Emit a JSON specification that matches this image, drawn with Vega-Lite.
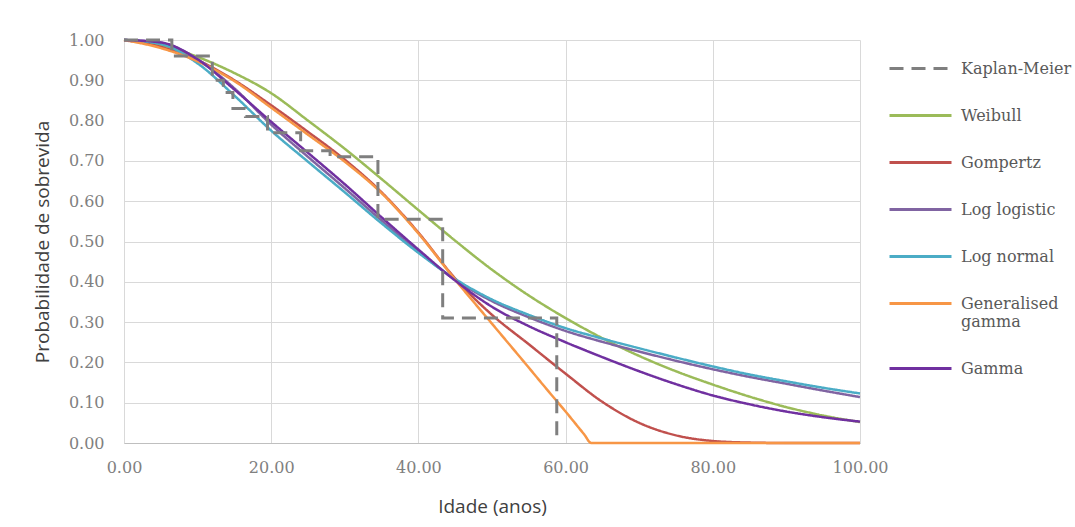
{
  "$schema": "https://vega.github.io/schema/vega-lite/v6.json",
  "width": 736,
  "height": 403,
  "autosize": {"type": "none"},
  "padding": {"left": 124, "top": 40, "right": 215, "bottom": 84},
  "background": "white",
  "config": {
    "view": {"stroke": null},
    "axis": {
      "gridColor": "#d9d9d9",
      "gridWidth": 1,
      "ticks": false,
      "domain": false,
      "labelFlush": false,
      "labelFont": "DejaVu Serif",
      "labelFontSize": 16,
      "labelColor": "#808080",
      "titleFont": "Open Sans",
      "titleFontSize": 19,
      "titleFontWeight": "normal",
      "titleColor": "#404040"
    },
    "legend": {
      "labelFont": "DejaVu Serif",
      "labelFontSize": 16,
      "labelColor": "#595959"
    }
  },
  "datasets": {
    "km": [
      {"series": "Kaplan-Meier", "age": 0, "s": 1.0},
      {"series": "Kaplan-Meier", "age": 6.5, "s": 0.96},
      {"series": "Kaplan-Meier", "age": 12, "s": 0.90},
      {"series": "Kaplan-Meier", "age": 13.5, "s": 0.87},
      {"series": "Kaplan-Meier", "age": 14.8, "s": 0.83},
      {"series": "Kaplan-Meier", "age": 16.5, "s": 0.81},
      {"series": "Kaplan-Meier", "age": 19.5, "s": 0.77},
      {"series": "Kaplan-Meier", "age": 24, "s": 0.725},
      {"series": "Kaplan-Meier", "age": 28, "s": 0.71},
      {"series": "Kaplan-Meier", "age": 34.5, "s": 0.555},
      {"series": "Kaplan-Meier", "age": 43.3, "s": 0.31},
      {"series": "Kaplan-Meier", "age": 58.8, "s": 0.0}
    ],
    "curves": [
      {"series": "Weibull", "age": 0, "s": 1.0},
      {"series": "Weibull", "age": 5, "s": 0.988},
      {"series": "Weibull", "age": 10, "s": 0.958},
      {"series": "Weibull", "age": 15, "s": 0.918},
      {"series": "Weibull", "age": 20, "s": 0.868},
      {"series": "Weibull", "age": 25, "s": 0.80},
      {"series": "Weibull", "age": 30, "s": 0.73},
      {"series": "Weibull", "age": 35, "s": 0.655},
      {"series": "Weibull", "age": 40, "s": 0.578},
      {"series": "Weibull", "age": 45, "s": 0.502},
      {"series": "Weibull", "age": 50, "s": 0.43},
      {"series": "Weibull", "age": 55, "s": 0.366},
      {"series": "Weibull", "age": 60, "s": 0.31},
      {"series": "Weibull", "age": 65, "s": 0.26},
      {"series": "Weibull", "age": 70, "s": 0.216},
      {"series": "Weibull", "age": 75, "s": 0.178},
      {"series": "Weibull", "age": 80, "s": 0.145},
      {"series": "Weibull", "age": 85, "s": 0.115},
      {"series": "Weibull", "age": 90, "s": 0.089},
      {"series": "Weibull", "age": 95, "s": 0.068},
      {"series": "Weibull", "age": 100, "s": 0.052},

      {"series": "Gompertz", "age": 0, "s": 1.0},
      {"series": "Gompertz", "age": 5, "s": 0.983},
      {"series": "Gompertz", "age": 10, "s": 0.95},
      {"series": "Gompertz", "age": 15, "s": 0.90},
      {"series": "Gompertz", "age": 20, "s": 0.838},
      {"series": "Gompertz", "age": 25, "s": 0.772},
      {"series": "Gompertz", "age": 30, "s": 0.703},
      {"series": "Gompertz", "age": 35, "s": 0.622},
      {"series": "Gompertz", "age": 40, "s": 0.522},
      {"series": "Gompertz", "age": 45, "s": 0.408},
      {"series": "Gompertz", "age": 50, "s": 0.318},
      {"series": "Gompertz", "age": 55, "s": 0.245},
      {"series": "Gompertz", "age": 60, "s": 0.172},
      {"series": "Gompertz", "age": 65, "s": 0.102},
      {"series": "Gompertz", "age": 70, "s": 0.05},
      {"series": "Gompertz", "age": 75, "s": 0.019},
      {"series": "Gompertz", "age": 80, "s": 0.005},
      {"series": "Gompertz", "age": 85, "s": 0.001},
      {"series": "Gompertz", "age": 90, "s": 0.0},
      {"series": "Gompertz", "age": 95, "s": 0.0},
      {"series": "Gompertz", "age": 100, "s": 0.0},

      {"series": "Log logistic", "age": 0, "s": 1.0},
      {"series": "Log logistic", "age": 5, "s": 0.993},
      {"series": "Log logistic", "age": 10, "s": 0.952},
      {"series": "Log logistic", "age": 15, "s": 0.88},
      {"series": "Log logistic", "age": 20, "s": 0.79},
      {"series": "Log logistic", "age": 25, "s": 0.71},
      {"series": "Log logistic", "age": 30, "s": 0.632},
      {"series": "Log logistic", "age": 35, "s": 0.552},
      {"series": "Log logistic", "age": 40, "s": 0.475},
      {"series": "Log logistic", "age": 45, "s": 0.405},
      {"series": "Log logistic", "age": 50, "s": 0.352},
      {"series": "Log logistic", "age": 55, "s": 0.312},
      {"series": "Log logistic", "age": 60, "s": 0.278},
      {"series": "Log logistic", "age": 65, "s": 0.251},
      {"series": "Log logistic", "age": 70, "s": 0.227},
      {"series": "Log logistic", "age": 75, "s": 0.204},
      {"series": "Log logistic", "age": 80, "s": 0.183},
      {"series": "Log logistic", "age": 85, "s": 0.164},
      {"series": "Log logistic", "age": 90, "s": 0.147},
      {"series": "Log logistic", "age": 95, "s": 0.13},
      {"series": "Log logistic", "age": 100, "s": 0.114},

      {"series": "Log normal", "age": 0, "s": 1.0},
      {"series": "Log normal", "age": 5, "s": 0.99},
      {"series": "Log normal", "age": 10, "s": 0.942},
      {"series": "Log normal", "age": 15, "s": 0.862},
      {"series": "Log normal", "age": 20, "s": 0.775},
      {"series": "Log normal", "age": 25, "s": 0.698},
      {"series": "Log normal", "age": 30, "s": 0.622},
      {"series": "Log normal", "age": 35, "s": 0.545},
      {"series": "Log normal", "age": 40, "s": 0.472},
      {"series": "Log normal", "age": 45, "s": 0.407},
      {"series": "Log normal", "age": 50, "s": 0.356},
      {"series": "Log normal", "age": 55, "s": 0.318},
      {"series": "Log normal", "age": 60, "s": 0.285},
      {"series": "Log normal", "age": 65, "s": 0.259},
      {"series": "Log normal", "age": 70, "s": 0.235},
      {"series": "Log normal", "age": 75, "s": 0.212},
      {"series": "Log normal", "age": 80, "s": 0.19},
      {"series": "Log normal", "age": 85, "s": 0.17},
      {"series": "Log normal", "age": 90, "s": 0.153},
      {"series": "Log normal", "age": 95, "s": 0.137},
      {"series": "Log normal", "age": 100, "s": 0.123},

      {"series": "Generalised gamma", "age": 0, "s": 1.0},
      {"series": "Generalised gamma", "age": 5, "s": 0.98},
      {"series": "Generalised gamma", "age": 10, "s": 0.947},
      {"series": "Generalised gamma", "age": 15, "s": 0.898},
      {"series": "Generalised gamma", "age": 20, "s": 0.832},
      {"series": "Generalised gamma", "age": 25, "s": 0.765},
      {"series": "Generalised gamma", "age": 30, "s": 0.698},
      {"series": "Generalised gamma", "age": 35, "s": 0.62},
      {"series": "Generalised gamma", "age": 40, "s": 0.52},
      {"series": "Generalised gamma", "age": 45, "s": 0.405},
      {"series": "Generalised gamma", "age": 50, "s": 0.296},
      {"series": "Generalised gamma", "age": 55, "s": 0.187},
      {"series": "Generalised gamma", "age": 57.5, "s": 0.132},
      {"series": "Generalised gamma", "age": 60, "s": 0.078},
      {"series": "Generalised gamma", "age": 62.5, "s": 0.022},
      {"series": "Generalised gamma", "age": 63.5, "s": 0.0},
      {"series": "Generalised gamma", "age": 65, "s": 0.0},
      {"series": "Generalised gamma", "age": 70, "s": 0.0},
      {"series": "Generalised gamma", "age": 75, "s": 0.0},
      {"series": "Generalised gamma", "age": 80, "s": 0.0},
      {"series": "Generalised gamma", "age": 85, "s": 0.0},
      {"series": "Generalised gamma", "age": 90, "s": 0.0},
      {"series": "Generalised gamma", "age": 95, "s": 0.0},
      {"series": "Generalised gamma", "age": 100, "s": 0.0},

      {"series": "Gamma", "age": 0, "s": 1.0},
      {"series": "Gamma", "age": 5, "s": 0.994},
      {"series": "Gamma", "age": 10, "s": 0.952},
      {"series": "Gamma", "age": 15, "s": 0.877},
      {"series": "Gamma", "age": 20, "s": 0.797},
      {"series": "Gamma", "age": 25, "s": 0.72},
      {"series": "Gamma", "age": 30, "s": 0.642},
      {"series": "Gamma", "age": 35, "s": 0.56},
      {"series": "Gamma", "age": 40, "s": 0.48},
      {"series": "Gamma", "age": 45, "s": 0.403},
      {"series": "Gamma", "age": 50, "s": 0.338},
      {"series": "Gamma", "age": 55, "s": 0.29},
      {"series": "Gamma", "age": 60, "s": 0.25},
      {"series": "Gamma", "age": 65, "s": 0.213},
      {"series": "Gamma", "age": 70, "s": 0.178},
      {"series": "Gamma", "age": 75, "s": 0.146},
      {"series": "Gamma", "age": 80, "s": 0.118},
      {"series": "Gamma", "age": 85, "s": 0.096},
      {"series": "Gamma", "age": 90, "s": 0.078},
      {"series": "Gamma", "age": 95, "s": 0.064},
      {"series": "Gamma", "age": 100, "s": 0.053}
    ]
  },
  "encoding": {
    "x": {
      "field": "age",
      "type": "quantitative",
      "scale": {"domain": [0, 100], "nice": false},
      "axis": {"title": "Idade (anos)", "values": [0, 20, 40, 60, 80, 100], "format": ".2f", "labelPadding": 16, "titlePadding": 22, "domain": true, "domainColor": "#bfbfbf"}
    },
    "y": {
      "field": "s",
      "type": "quantitative",
      "scale": {"domain": [0, 1], "nice": false},
      "axis": {"title": "Probabilidade de sobrevida", "values": [0, 0.1, 0.2, 0.3, 0.4, 0.5, 0.6, 0.7, 0.8, 0.9, 1.0], "format": ".2f", "labelPadding": 20, "titlePadding": 16}
    },
    "color": {
      "field": "series",
      "type": "nominal",
      "scale": {
        "domain": ["Kaplan-Meier", "Weibull", "Gompertz", "Log logistic", "Log normal", "Generalised gamma", "Gamma"],
        "range": ["#7f7f7f", "#9bbb59", "#c0504d", "#8064a2", "#4bacc6", "#f79646", "#7030a0"]
      },
      "legend": {
        "title": null,
        "orient": "none",
        "legendX": 764,
        "legendY": -4,
        "padding": 0,
        "symbolType": "stroke",
        "symbolSize": 3844,
        "symbolStrokeWidth": 3,
        "labelOffset": 8,
        "rowPadding": 6,
        "labelLimit": 300,
        "labelExpr": "datum.label == 'Generalised gamma' ? ['Generalised', 'gamma'] : datum.label"
      }
    },
    "strokeDash": {
      "field": "series",
      "type": "nominal",
      "scale": {
        "domain": ["Kaplan-Meier", "Weibull", "Gompertz", "Log logistic", "Log normal", "Generalised gamma", "Gamma"],
        "range": [[14, 8], [1, 0], [1, 0], [1, 0], [1, 0], [1, 0], [1, 0]]
      }
    }
  },
  "layer": [
    {
      "data": {"name": "curves"},
      "mark": {"type": "line", "interpolate": "monotone", "strokeWidth": 2.5}
    },
    {
      "data": {"name": "km"},
      "mark": {"type": "line", "interpolate": "step-after", "strokeWidth": 3}
    }
  ]
}
